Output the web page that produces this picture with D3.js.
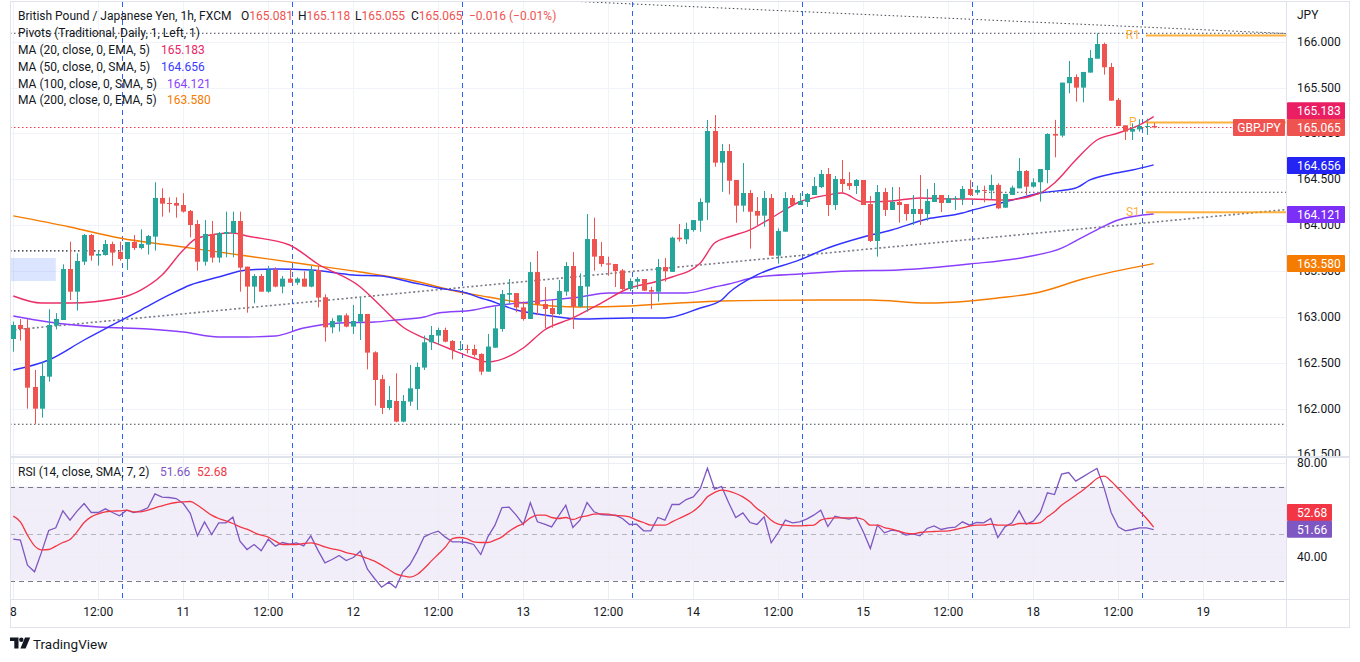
<!DOCTYPE html>
<html>
<head>
<meta charset="utf-8">
<script src="https://cdn.jsdelivr.net/npm/d3@7"></script>
<style>
  body { margin: 0; background: #fff; }
  svg { display: block; font-family: "Trebuchet MS", Roboto, "Liberation Sans", sans-serif; }
</style>
</head>
<body>
<svg id="chart" width="1360" height="662"></svg>
<script>
// hourly candles, index 0 = day 8 00:00 (weekend removed)
const candleOpen = [
  162.758,162.911,162.878,162.235,161.998,162.347,162.903,162.965,163.521,163.274,
  163.601,163.892,163.667,163.674,163.794,163.707,163.630,163.816,163.750,163.787,
  163.874,164.296,164.241,164.241,164.219,164.154,164.012,163.601,163.903,163.645,
  163.903,163.914,164.045,163.547,163.329,163.445,163.274,163.511,163.329,163.416,
  163.372,163.416,163.329,163.511,163.213,162.885,162.947,163.016,162.893,162.947,
  163.031,162.613,162.320,162.006,162.082,161.857,162.075,162.213,162.446,162.722,
  162.795,162.856,162.736,162.638,162.649,162.649,162.595,162.402,162.663,162.867,
  163.241,163.259,163.103,162.976,163.488,163.139,163.096,163.030,163.274,163.554,
  163.110,163.329,163.848,163.663,163.583,163.576,163.506,163.303,163.383,163.412,
  163.292,163.274,163.543,163.490,163.863,163.845,163.946,164.048,164.245,165.026,
  164.681,164.808,164.492,164.212,164.350,164.154,164.103,164.295,163.667,163.928,
  164.295,164.219,164.252,164.328,164.415,164.557,164.219,164.503,164.459,164.426,
  164.492,164.230,163.827,164.361,164.165,164.252,164.230,164.121,164.176,164.121,
  164.252,164.328,164.241,164.284,164.284,164.394,164.354,164.383,164.376,164.438,
  164.190,164.329,164.401,164.590,164.419,164.467,164.601,164.994,164.976,165.547,
  165.615,165.499,165.663,165.815,165.975,165.724,165.365,165.088,165.019,165.044,
  165.074,165.081
];
const candleHigh = [
  162.947,162.976,162.976,162.420,162.504,163.082,163.040,163.572,163.819,163.692,
  163.903,163.903,163.729,163.838,163.819,163.819,163.816,163.892,163.954,163.892,
  164.467,164.401,164.303,164.303,164.347,164.165,164.056,164.056,164.045,163.925,
  164.147,164.147,164.147,163.547,163.467,163.467,163.554,163.540,163.445,163.529,
  163.431,163.496,163.554,163.554,163.245,162.984,163.016,163.038,163.129,163.209,
  163.031,162.624,162.366,162.246,162.384,162.147,162.475,162.500,162.795,162.900,
  162.882,162.882,162.747,162.736,162.696,162.696,162.602,162.813,163.110,163.292,
  163.412,163.259,163.168,163.597,163.717,163.325,163.183,163.401,163.597,163.706,
  163.474,164.121,164.081,163.815,163.656,163.576,163.521,163.419,163.434,163.412,
  163.328,163.630,163.641,163.874,164.012,164.026,164.055,164.292,165.146,165.200,
  164.884,164.884,164.492,164.677,164.383,164.306,164.372,164.339,163.965,164.361,
  164.328,164.350,164.350,164.524,164.601,164.623,164.535,164.710,164.579,164.503,
  164.492,164.317,164.437,164.405,164.415,164.415,164.230,164.328,164.546,164.394,
  164.459,164.328,164.328,164.317,164.426,164.492,164.430,164.430,164.550,164.456,
  164.340,164.430,164.732,164.601,164.510,164.612,165.001,165.147,165.554,165.790,
  165.644,165.670,165.910,166.092,165.990,165.768,165.386,165.088,165.110,165.154,
  165.161,165.118
];
const candleLow = [
  162.620,162.740,161.998,161.831,161.900,162.293,162.863,162.965,163.183,163.067,
  163.565,163.612,163.558,163.667,163.558,163.612,163.510,163.729,163.736,163.678,
  163.721,164.092,164.136,164.081,164.136,163.867,163.503,163.558,163.591,163.591,
  163.649,163.649,163.274,163.045,163.147,163.274,163.263,163.322,163.256,163.372,
  163.347,163.329,163.322,163.103,162.729,162.820,162.838,162.885,162.813,162.747,
  162.427,162.031,161.940,161.984,161.850,161.850,162.028,161.984,162.420,162.638,
  162.696,162.722,162.536,162.631,162.602,162.565,162.366,162.402,162.663,162.838,
  163.139,163.049,162.958,162.976,163.019,162.874,162.881,163.019,163.230,162.867,
  163.103,163.056,163.503,163.546,163.448,163.325,163.292,163.281,163.303,163.281,
  163.085,163.165,163.383,163.490,163.819,163.794,163.928,163.928,164.055,164.637,
  164.364,164.335,164.026,164.146,163.743,164.001,163.983,163.667,163.579,163.928,
  164.219,164.219,164.197,164.328,164.404,164.099,164.165,164.350,164.383,164.339,
  164.219,163.816,163.656,164.099,164.165,164.026,164.048,164.001,164.001,164.048,
  164.252,164.143,164.241,164.165,164.219,164.317,164.329,164.249,164.285,164.176,
  164.190,164.329,164.401,164.329,164.409,164.256,164.456,164.739,164.958,165.437,
  165.346,165.339,165.663,165.815,165.641,165.357,165.081,164.928,164.928,165.019,
  164.983,165.055
];
const candleClose = [
  162.911,162.867,162.227,161.998,162.355,162.911,162.976,163.521,163.274,163.609,
  163.892,163.667,163.685,163.794,163.700,163.630,163.816,163.750,163.794,163.881,
  164.296,164.234,164.234,164.212,164.147,164.001,163.601,163.903,163.645,163.914,
  163.925,164.045,163.536,163.329,163.445,163.274,163.511,163.329,163.416,163.372,
  163.416,163.329,163.511,163.209,162.885,162.954,163.016,162.893,162.954,163.031,
  162.609,162.311,162.006,162.093,161.857,162.082,162.220,162.453,162.722,162.802,
  162.856,162.729,162.638,162.649,162.638,162.584,162.402,162.675,162.874,163.248,
  163.259,163.103,162.976,163.488,163.139,163.085,163.030,163.281,163.554,163.110,
  163.336,163.848,163.656,163.576,163.569,163.499,163.303,163.390,163.412,163.285,
  163.274,163.543,163.496,163.863,163.845,163.957,164.055,164.252,165.026,164.681,
  164.808,164.484,164.212,164.350,164.146,164.103,164.295,163.667,163.936,164.295,
  164.219,164.263,164.339,164.426,164.557,164.219,164.503,164.448,164.426,164.492,
  164.219,163.827,164.361,164.165,164.252,164.219,164.121,164.176,164.121,164.263,
  164.328,164.241,164.295,164.295,164.394,164.328,164.383,164.376,164.438,164.183,
  164.340,164.409,164.590,164.419,164.467,164.612,164.994,164.976,165.554,165.615,
  165.499,165.670,165.823,165.975,165.721,165.357,165.081,165.019,165.048,165.081,
  165.081,165.065
];

// moving averages as [hour, price]
const ema20 = [[0,163.227],[4,163.15],[8,163.15],[15,163.205],[18,163.292],[21,163.456],[24,163.729],
  [26,163.859],[31,163.914],[33,163.881],[39,163.783],[43,163.576],[49,163.325],[52,163.107],
  [55,162.889],[58,162.769],[62,162.638],[65,162.551],[67,162.507],[72,162.66],[75,162.856],
  [79,162.987],[83,163.15],[87,163.314],[90,163.369],[93,163.434],[97,163.587],[99,163.805],
  [101,163.87],[104,163.947],[107,164.077],[111,164.252],[115,164.328],[117,164.35],[120,164.252],
  [124,164.263],[128,164.296],[133,164.285],[135,164.285],[140,164.274],[145,164.35],[147,164.46],
  [150,164.71],[153,164.928],[156,165.004],[159,165.092],[161,165.183]];
const sma50 = [[0,162.42],[5,162.529],[10,162.747],[14,162.911],[18,163.074],[22,163.238],[25,163.347],
  [29,163.434],[33,163.511],[37,163.521],[42,163.511],[48,163.456],[52,163.445],[56,163.38],
  [60,163.314],[64,163.26],[66,163.205],[67,163.183],[71,163.074],[75,163.02],[80,162.976],
  [87,162.987],[92,162.987],[97,163.096],[100,163.183],[101,163.259],[105,163.456],[111,163.62],
  [115,163.75],[120,163.87],[124,163.947],[129,164.066],[134,164.132],[135,164.154],[140,164.252],
  [145,164.35],[150,164.405],[152,164.492],[155,164.557],[158,164.601],[161,164.656]];
const sma100 = [[0,163.009],[5,162.943],[12,162.889],[19,162.867],[24,162.834],[29,162.78],[33,162.78],
  [37,162.791],[41,162.878],[46,162.933],[51,162.943],[54,162.965],[58,162.998],[60,163.041],
  [65,163.074],[67,163.107],[73,163.162],[80,163.216],[84,163.26],[88,163.26],[95,163.26],
  [99,163.325],[101,163.358],[105,163.434],[111,163.467],[118,163.5],[125,163.511],[135,163.576],
  [143,163.652],[148,163.75],[151,163.87],[154,163.99],[156,164.056],[161,164.121]];
const ema200 = [[0,164.1],[8,163.979],[15,163.859],[24,163.761],[33,163.663],[41,163.576],[49,163.488],
  [56,163.401],[63,163.271],[67,163.216],[73,163.14],[80,163.107],[87,163.118],[94,163.15],
  [100,163.172],[114,163.183],[121,163.183],[129,163.15],[135,163.172],[139,163.205],[145,163.271],
  [151,163.412],[161,163.58]];

// RSI (14) and its SMA (7)
const rsiValues = [
  47.59,47.16,36.52,33.69,42.19,51.27,52.41,59.64,55.67,59.5,
  62.76,58.93,58.93,60.49,58.93,57.51,59.93,58.93,59.64,60.92,
  66.88,65.46,65.32,64.89,62.76,58.51,49.0,54.96,49.57,54.54,
  54.54,56.95,46.74,43.19,45.32,42.62,47.59,44.61,46.17,45.46,
  46.03,44.75,49.0,42.91,37.52,38.93,40.64,38.51,39.78,42.48,
  34.82,30.85,27.16,29.29,26.88,33.69,36.81,42.19,48.58,50.0,
  50.99,48.44,46.45,46.45,46.17,45.32,41.06,48.58,53.54,61.06,
  61.2,57.8,53.83,63.05,54.96,53.97,52.83,57.51,62.05,52.55,
  55.67,63.19,59.22,58.08,57.8,57.8,56.38,53.83,53.97,51.13,
  51.13,56.81,55.67,62.34,62.34,64.46,65.6,69.15,77.8,68.86,
  70.0,63.05,56.81,58.79,54.68,53.83,57.09,46.03,50.42,55.67,
  54.54,54.96,56.1,57.8,59.93,52.98,57.37,56.67,56.1,56.95,
  50.71,43.62,53.54,50.28,51.42,50.99,49.29,49.86,49.0,52.13,
  53.26,51.7,52.41,52.69,54.96,53.54,54.68,54.54,56.38,48.3,
  52.83,54.54,59.64,53.97,55.25,58.93,67.3,66.59,75.25,75.95,
  72.27,74.11,75.95,77.66,69.43,58.93,52.83,51.13,51.7,52.41,
  52.41,51.66
];
const rsiSma = [
  57.37,54.96,49.29,44.75,43.05,43.19,44.61,46.17,47.45,50.71,
  54.68,57.09,58.37,59.22,59.5,59.64,59.93,59.22,59.22,59.93,
  60.92,61.77,62.62,63.19,63.47,63.61,62.05,59.93,57.8,56.38,
  55.39,54.25,52.83,51.84,50.42,49.29,48.44,46.74,45.32,45.32,
  45.32,45.74,46.03,45.32,44.33,43.48,42.91,41.91,41.2,40.49,
  39.36,38.23,36.52,34.68,32.84,31.98,31.42,32.55,35.1,38.23,
  41.2,44.18,47.87,48.3,47.87,46.45,46.17,46.17,47.16,48.58,
  50.99,52.83,54.25,56.67,57.8,57.8,56.81,56.38,56.81,55.96,
  56.95,57.51,58.22,58.37,58.22,57.66,57.51,57.09,55.67,54.68,
  53.54,53.54,53.54,54.96,56.38,57.8,59.5,62.05,65.6,67.44,
  68.44,68.01,67.02,65.6,63.47,60.64,58.51,55.67,53.97,53.54,
  53.26,53.26,53.4,53.54,55.67,56.38,56.67,56.67,56.67,56.67,
  55.96,53.54,53.54,52.55,51.84,50.99,50.14,49.86,50.42,50.71,
  50.85,50.99,51.13,51.7,52.41,53.12,53.54,53.54,53.97,53.54,
  53.54,53.54,54.25,54.25,54.25,54.68,57.09,59.22,62.05,64.18,
  66.31,68.44,70.85,73.4,74.39,72.27,69.15,66.03,62.76,59.5,
  56.38,52.68
];

const timeLabels = ["8","12:00","11","12:00","12","12:00","13","12:00","14","12:00","15","12:00","18","12:00","19"];
const priceTicks = [161.5,162,162.5,163,163.5,164,164.5,165,165.5,166];
const sessionHours = [15.4,39.4,63.4,87.4,111.4,135.4,159.4];
const pivots = [{name:"R1", value:166.068},{name:"P", value:165.119},{name:"S1", value:164.14}];
const lastPrice = 165.065;

const W = 1360, H = 662;
const paneL = 10, paneR = 1286, priceTop = 2, priceBot = 456, rsiTop = 458, rsiBot = 599;

const x = d3.scaleLinear().domain([0, 168]).range([13.3, 13.3 + 168 * 7.083]);
const y = d3.scaleLinear().domain([161.5, 166]).range([454.35, 41.7]);
const yr = d3.scaleLinear().domain([30, 80]).range([580.5, 463]);
const fmt3 = d3.format(".3f"), fmt2 = d3.format(".2f");

const svg = d3.select("#chart");
const defs = svg.append("defs");
defs.append("clipPath").attr("id", "clipPrice").append("rect")
  .attr("x", paneL).attr("y", priceTop).attr("width", paneR - paneL).attr("height", priceBot - priceTop);
defs.append("clipPath").attr("id", "clipRsi").append("rect")
  .attr("x", paneL).attr("y", rsiTop).attr("width", paneR - paneL).attr("height", rsiBot - rsiTop);
defs.append("clipPath").attr("id", "clipPriceAxis").append("rect")
  .attr("x", paneR).attr("y", priceTop).attr("width", 70).attr("height", priceBot - priceTop);
defs.append("clipPath").attr("id", "clipRsiAxis").append("rect")
  .attr("x", paneR).attr("y", rsiTop).attr("width", 70).attr("height", rsiBot - rsiTop);

svg.append("rect").attr("width", W).attr("height", H).attr("fill", "#fff");

// ---------- price pane ----------
const pg = svg.append("g").attr("clip-path", "url(#clipPrice)");

pg.selectAll(".hgrid").data(priceTicks).enter().append("line")
  .attr("x1", paneL).attr("x2", paneR)
  .attr("y1", d => Math.round(y(d)) + 0.5).attr("y2", d => Math.round(y(d)) + 0.5)
  .attr("stroke", "#f0f3fa");
pg.selectAll(".vgrid").data(timeLabels).enter().append("line")
  .attr("x1", (d, i) => Math.round(x(i * 12)) + 0.5).attr("x2", (d, i) => Math.round(x(i * 12)) + 0.5)
  .attr("y1", priceTop).attr("y2", priceBot)
  .attr("stroke", "#f0f3fa");

// drawings
pg.append("rect")
  .attr("x", x(-0.5)).attr("width", x(6) - x(-0.5))
  .attr("y", y(163.641)).attr("height", y(163.39) - y(163.641))
  .attr("fill", "rgba(41,98,255,0.17)");

const dotted = (x1, y1, x2, y2, col, w, dash) => pg.append("line")
  .attr("x1", x1).attr("y1", y1).attr("x2", x2).attr("y2", y2)
  .attr("stroke", col).attr("stroke-width", w).attr("stroke-dasharray", dash);

dotted(paneL, y(166.092), paneR, y(166.092), "#434651", 1, "1.5,2.5");
dotted(545, 0, paneR, 33.5, "#434651", 1, "1.5,2.5");
dotted(paneL, y(163.718), x(15.4), y(163.718), "#131722", 1.2, "1.5,2.5");
dotted(paneL, y(161.828), paneR, y(161.828), "#434651", 1, "1.5,2.5");
dotted(985, y(164.358), paneR, y(164.358), "#434651", 1, "1.5,2.5");
dotted(paneL, 330.2, paneR, 209.6, "#787b86", 1.6, "2,2.5");

// session separators
pg.selectAll(".sess").data(sessionHours).enter().append("line")
  .attr("x1", d => Math.round(x(d)) + 0.5).attr("x2", d => Math.round(x(d)) + 0.5)
  .attr("y1", priceTop).attr("y2", priceBot)
  .attr("stroke", "#2962ff").attr("stroke-dasharray", "5,4");

// moving averages
const maLine = d3.line().x(d => x(d[0])).y(d => y(d[1])).curve(d3.curveMonotoneX);
[[ema200, "#f57c00"], [sma100, "#8a3ffc"], [sma50, "#3232ff"], [ema20, "#ec2f66"]].forEach(([pts, col]) => {
  pg.append("path").datum(pts).attr("d", maLine)
    .attr("fill", "none").attr("stroke", col).attr("stroke-width", 1.4);
});

// last price line
dotted(paneL, Math.round(y(lastPrice)) + 0.5, paneR, Math.round(y(lastPrice)) + 0.5, "#f23645", 1, "1.5,2.5");

// candles
const candles = candleOpen.map((o, i) => ({i, o, h: candleHigh[i], l: candleLow[i], c: candleClose[i]}));
const cg = pg.append("g");
const colorOf = d => d.c >= d.o ? "#26a69a" : "#ef5350";
cg.selectAll(".wick").data(candles).enter().append("line")
  .attr("x1", d => Math.round(x(d.i)) + 0.5).attr("x2", d => Math.round(x(d.i)) + 0.5)
  .attr("y1", d => y(d.h)).attr("y2", d => y(d.l))
  .attr("stroke", colorOf).attr("stroke-width", 1);
cg.selectAll(".body").data(candles).enter().append("rect")
  .attr("x", d => Math.round(x(d.i)) - 2)
  .attr("width", 5)
  .attr("y", d => y(Math.max(d.o, d.c)))
  .attr("height", d => Math.max(1, Math.abs(y(d.o) - y(d.c))))
  .attr("fill", colorOf);

// pivots
const pivStart = x(159.9);
pivots.forEach(p => {
  pg.append("line").attr("x1", pivStart).attr("x2", paneR)
    .attr("y1", y(p.value)).attr("y2", y(p.value))
    .attr("stroke", "#ff9800").attr("stroke-opacity", 0.75).attr("stroke-width", 2);
  pg.append("text").attr("x", pivStart - 13).attr("y", y(p.value) + 4)
    .attr("text-anchor", "middle").attr("font-size", 12)
    .attr("fill", "#ff9800").attr("fill-opacity", 0.8).text(p.name);
});

// ---------- RSI pane ----------
const rg = svg.append("g").attr("clip-path", "url(#clipRsi)");
rg.append("rect").attr("x", paneL).attr("width", paneR - paneL)
  .attr("y", yr(70)).attr("height", yr(30) - yr(70))
  .attr("fill", "rgba(126,87,194,0.1)");
rg.selectAll(".rh").data([80, 60, 40]).enter().append("line")
  .attr("x1", paneL).attr("x2", paneR)
  .attr("y1", d => Math.round(yr(d)) + 0.5).attr("y2", d => Math.round(yr(d)) + 0.5)
  .attr("stroke", "#eceef4");
rg.selectAll(".rv").data(timeLabels).enter().append("line")
  .attr("x1", (d, i) => Math.round(x(i * 12)) + 0.5).attr("x2", (d, i) => Math.round(x(i * 12)) + 0.5)
  .attr("y1", rsiTop).attr("y2", rsiBot)
  .attr("stroke", "#eceef4");
[[70, "#787b86", 1], [30, "#787b86", 1], [50, "#787b86", 0.5]].forEach(([v, col, op]) => {
  rg.append("line").attr("x1", paneL).attr("x2", paneR)
    .attr("y1", Math.round(yr(v)) + 0.5).attr("y2", Math.round(yr(v)) + 0.5)
    .attr("stroke", col).attr("stroke-opacity", op).attr("stroke-dasharray", "5,4");
});
rg.selectAll(".sess").data(sessionHours).enter().append("line")
  .attr("x1", d => Math.round(x(d)) + 0.5).attr("x2", d => Math.round(x(d)) + 0.5)
  .attr("y1", rsiTop).attr("y2", rsiBot)
  .attr("stroke", "#2962ff").attr("stroke-dasharray", "5,4");
const rsiLine = d3.line().x((d, i) => x(i)).y(d => yr(d));
rg.append("path").datum(rsiValues).attr("d", rsiLine)
  .attr("fill", "none").attr("stroke", "#7e57c2").attr("stroke-width", 1.3);
rg.append("path").datum(rsiSma).attr("d", rsiLine.curve(d3.curveMonotoneX))
  .attr("fill", "none").attr("stroke", "#f23645").attr("stroke-width", 1.3);

// ---------- frame ----------
const fr = svg.append("g").attr("fill", "none").attr("stroke", "#e0e3eb");
fr.append("rect").attr("x", 10.5).attr("y", 1.5).attr("width", 1339).attr("height", 626);
fr.append("line").attr("x1", paneR + 0.5).attr("x2", paneR + 0.5).attr("y1", 1).attr("y2", 628);
fr.append("line").attr("x1", 10).attr("x2", 1350).attr("y1", 457).attr("y2", 457).attr("stroke-width", 2);
fr.append("line").attr("x1", 10).attr("x2", 1350).attr("y1", rsiBot + 0.5).attr("y2", rsiBot + 0.5);

// ---------- price axis ----------
const ax = svg.append("g").attr("font-size", 12).attr("fill", "#131722");
const pax = ax.append("g").attr("clip-path", "url(#clipPriceAxis)");
pax.append("text").attr("x", 1297).attr("y", 19).text("JPY");
pax.selectAll(".pt").data(priceTicks).enter().append("text")
  .attr("x", 1297).attr("y", d => y(d) + 4).text(d => fmt3(d));

const boxes = [
  {v: 165.183, cy: 110.7, col: "#e91e63"},
  {v: 165.065, cy: 127.4, col: "#ef5350"},
  {v: 164.656, cy: 165.5, col: "#2424f5"},
  {v: 164.121, cy: 214.5, col: "#7b2ff7"},
  {v: 163.580, cy: 263.5, col: "#f57c00"}
];
boxes.forEach(b => {
  ax.append("rect").attr("x", 1287).attr("y", b.cy - 8.5).attr("width", 58).attr("height", 17)
    .attr("rx", 1).attr("fill", b.col);
  ax.append("text").attr("x", 1297).attr("y", b.cy + 4.5).attr("fill", "#fff").text(fmt3(b.v));
});
ax.append("rect").attr("x", 1233).attr("y", 127.4 - 8.5).attr("width", 52).attr("height", 17)
  .attr("rx", 1).attr("fill", "#ef5350");
ax.append("text").attr("x", 1259).attr("y", 127.4 + 4.5).attr("text-anchor", "middle")
  .attr("fill", "#fff").text("GBPJPY");

// RSI axis
const rax = ax.append("g").attr("clip-path", "url(#clipRsiAxis)");
rax.append("text").attr("x", 1297).attr("y", yr(80) + 4).text("80.00");
rax.append("text").attr("x", 1297).attr("y", yr(40) + 4).text("40.00");
[{v: 52.68, cy: 512.5, col: "#f23645"}, {v: 51.66, cy: 529.2, col: "#7e57c2"}].forEach(b => {
  ax.append("rect").attr("x", 1287).attr("y", b.cy - 8.5).attr("width", 45).attr("height", 17)
    .attr("rx", 1).attr("fill", b.col);
  ax.append("text").attr("x", 1297).attr("y", b.cy + 4.5).attr("fill", "#fff").text(fmt2(b.v));
});

// time axis
ax.selectAll(".tl").data(timeLabels).enter().append("text")
  .attr("x", (d, i) => x(i * 12)).attr("y", 616).attr("text-anchor", "middle").text(d => d);

// ---------- legends ----------
const lg = svg.append("g").attr("font-size", 12).attr("fill", "#131722");
const red = "#ef5350";
lg.append("text").attr("x", 18).attr("y", 20).text("British Pound / Japanese Yen, 1h, FXCM");
[["O", "165.081", 241], ["H", "165.118", 298], ["L", "165.055", 355], ["C", "165.065", 411]].forEach(([k, v, px]) => {
  const t = lg.append("text").attr("x", px).attr("y", 20);
  t.append("tspan").text(k);
  t.append("tspan").attr("fill", red).text(v);
});
lg.append("text").attr("x", 469).attr("y", 20).attr("fill", red).text("\u22120.016 (\u22120.01%)");
lg.append("text").attr("x", 18).attr("y", 37).text("Pivots (Traditional, Daily, 1, Left, 1)");
[["MA (20, close, 0, EMA, 5)", "165.183", "#e91e63", 161],
 ["MA (50, close, 0, SMA, 5)", "164.656", "#3a3aff", 161],
 ["MA (100, close, 0, SMA, 5)", "164.121", "#8a3ffc", 167],
 ["MA (200, close, 0, EMA, 5)", "163.580", "#f57c00", 167]].forEach(([t, v, col, vx], i) => {
  lg.append("text").attr("x", 18).attr("y", 54 + i * 16.8).text(t);
  lg.append("text").attr("x", vx).attr("y", 54 + i * 16.8).attr("fill", col).text(v);
});
lg.append("text").attr("x", 18).attr("y", 476).text("RSI (14, close, SMA, 7, 2)");
lg.append("text").attr("x", 160).attr("y", 476).attr("fill", "#7e57c2").text("51.66");
lg.append("text").attr("x", 197).attr("y", 476).attr("fill", "#f23645").text("52.68");

// ---------- TradingView mark ----------
const logo = svg.append("g").attr("fill", "#131722");
logo.append("path").attr("d", "M10,637.5h8.5v11h-4.2v-7.4h-4.3z");
logo.append("circle").attr("cx", 21.3).attr("cy", 639.8).attr("r", 2.2);
logo.append("path").attr("d", "M25,637.5h5.2l-4.6,11h-5.2z");
logo.append("text").attr("x", 33).attr("y", 649).attr("font-size", 13.5).text("TradingView");
</script>
</body>
</html>
